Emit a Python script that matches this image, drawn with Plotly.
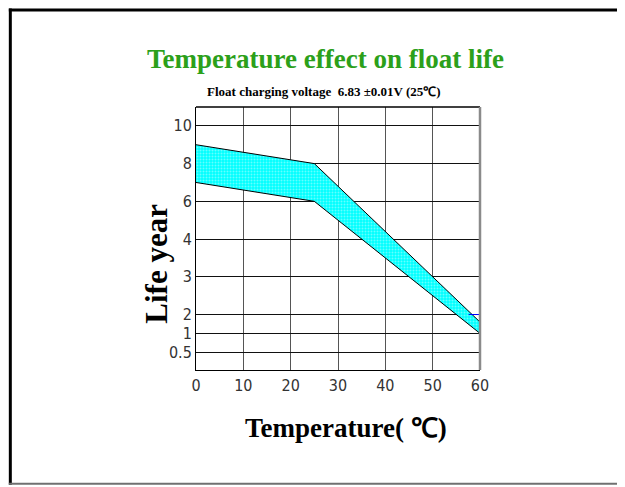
import numpy as np
import plotly.graph_objects as go

# ---- data ----
temperature = [0, 25, 60]            # °C
life_upper = [9.0, 8.0, 1.6]         # years
life_lower = [7.0, 6.0, 1.0]         # years
blue_x = [57.6, 60]
blue_life = [2, 2]

x_ticks = [0, 10, 20, 30, 40, 50, 60]
y_tick_labels = [0.5, 1, 2, 3, 4, 6, 8, 10]
# the chart's vertical scale is non-uniform: each label sits at this slot
y_tick_slots = [0.5, 1.0, 1.5, 2.5, 3.5, 4.5, 5.5, 6.5]


def to_slot(vals):
    return list(np.interp(vals, y_tick_labels, y_tick_slots))


OFF = 8  # page body margin
W, H = 625 - OFF, 487 - OFF
# screen-pixel plot box
SX0, SX1, SY0, SY1 = 195.5, 480, 106.7, 370
L, T = SX0 - OFF, SY0 - OFF
R = W - (SX1 - OFF)
B = H - (SY1 - OFF)
pw, ph = SX1 - SX0, SY1 - SY0


def px(x):
    return (x - SX0) / pw


def py(y):
    return (SY1 - y) / ph


fig = go.Figure()
fig.add_trace(go.Scatter(x=temperature, y=to_slot(life_lower), mode="lines",
                         line=dict(color="black", width=1), showlegend=False,
                         hoverinfo="skip"))
fig.add_trace(go.Scatter(x=temperature, y=to_slot(life_upper), mode="lines",
                         line=dict(color="black", width=1), fill="tonexty",
                         fillcolor="#00F0F0",
                         fillpattern=dict(shape=".", bgcolor="#00FFFF",
                                          fgcolor="#C8FFFF", size=3, solidity=0.35),
                         showlegend=False, hoverinfo="skip"))
fig.add_trace(go.Scatter(x=blue_x, y=to_slot(blue_life), mode="lines",
                         line=dict(color="#0000FF", width=1), showlegend=False,
                         hoverinfo="skip"))

tick_font = dict(family="Liberation Sans Narrow, DejaVu Sans Condensed, Liberation Sans, sans-serif",
                 size=16, color="#333")
fig.update_xaxes(range=[0, 60], tickvals=x_ticks, ticktext=[str(v) for v in x_ticks],
                 showgrid=True, gridcolor="#555", gridwidth=1, zeroline=False,
                 showline=True, linecolor="black", linewidth=1, ticks="",
                 tickfont=tick_font, ticklabelstandoff=1)
fig.update_yaxes(range=[0.03, 7.0], tickvals=y_tick_slots,
                 ticktext=[str(v) for v in y_tick_labels],
                 showgrid=True, gridcolor="#111", gridwidth=1, zeroline=False,
                 showline=True, linecolor="black", linewidth=1, ticks="",
                 tickfont=tick_font)

shapes = [
    # plot top border and right border
    dict(type="line", xref="paper", yref="paper", x0=0, x1=1, y0=1, y1=1,
         line=dict(color="black", width=1.5)),
    dict(type="line", xref="paper", yref="paper", x0=1, x1=1, y0=0, y1=1,
         line=dict(color="#8a8a8a", width=2.5)),
    # outer frame (kept inside the figure area)
    dict(type="line", xref="paper", yref="paper", x0=px(8), x1=px(640),
         y0=py(9.5), y1=py(9.5), line=dict(color="black", width=3)),
    dict(type="line", xref="paper", yref="paper", x0=px(9.5), x1=px(9.5),
         y0=py(8), y1=py(485), line=dict(color="black", width=3)),
    dict(type="line", xref="paper", yref="paper", x0=px(8), x1=px(640),
         y0=py(484), y1=py(484), line=dict(color="#707070", width=2)),
]

serif = "Liberation Serif, Times New Roman, serif"
annotations = [
    dict(text="<b>Temperature effect on float life</b>", xref="paper", yref="paper",
         x=px(325), y=py(59), showarrow=False, xanchor="center", yanchor="middle",
         font=dict(family=serif, size=27, color="#2CA01A")),
    dict(text="<b>Float charging voltage  6.83 ±0.01V (25℃)</b>", xref="paper",
         yref="paper", x=px(324), y=py(91), showarrow=False, xanchor="center",
         yanchor="middle", font=dict(family=serif, size=13, color="black")),
    dict(text="<b>Temperature( ℃)</b>", xref="paper", yref="paper",
         x=px(346), y=py(428), showarrow=False, xanchor="center", yanchor="middle",
         font=dict(family=serif, size=27, color="black")),
    dict(text="<b>Life year</b>", xref="paper", yref="paper",
         x=px(156), y=py(264), showarrow=False, xanchor="center", yanchor="middle",
         textangle=-90, font=dict(family=serif, size=31, color="black")),
]

fig.update_layout(width=W, height=H, margin=dict(l=L, r=R, t=T, b=B, pad=0),
                  paper_bgcolor="white", plot_bgcolor="white",
                  shapes=shapes, annotations=annotations, showlegend=False)

fig.write_html("out.html")
